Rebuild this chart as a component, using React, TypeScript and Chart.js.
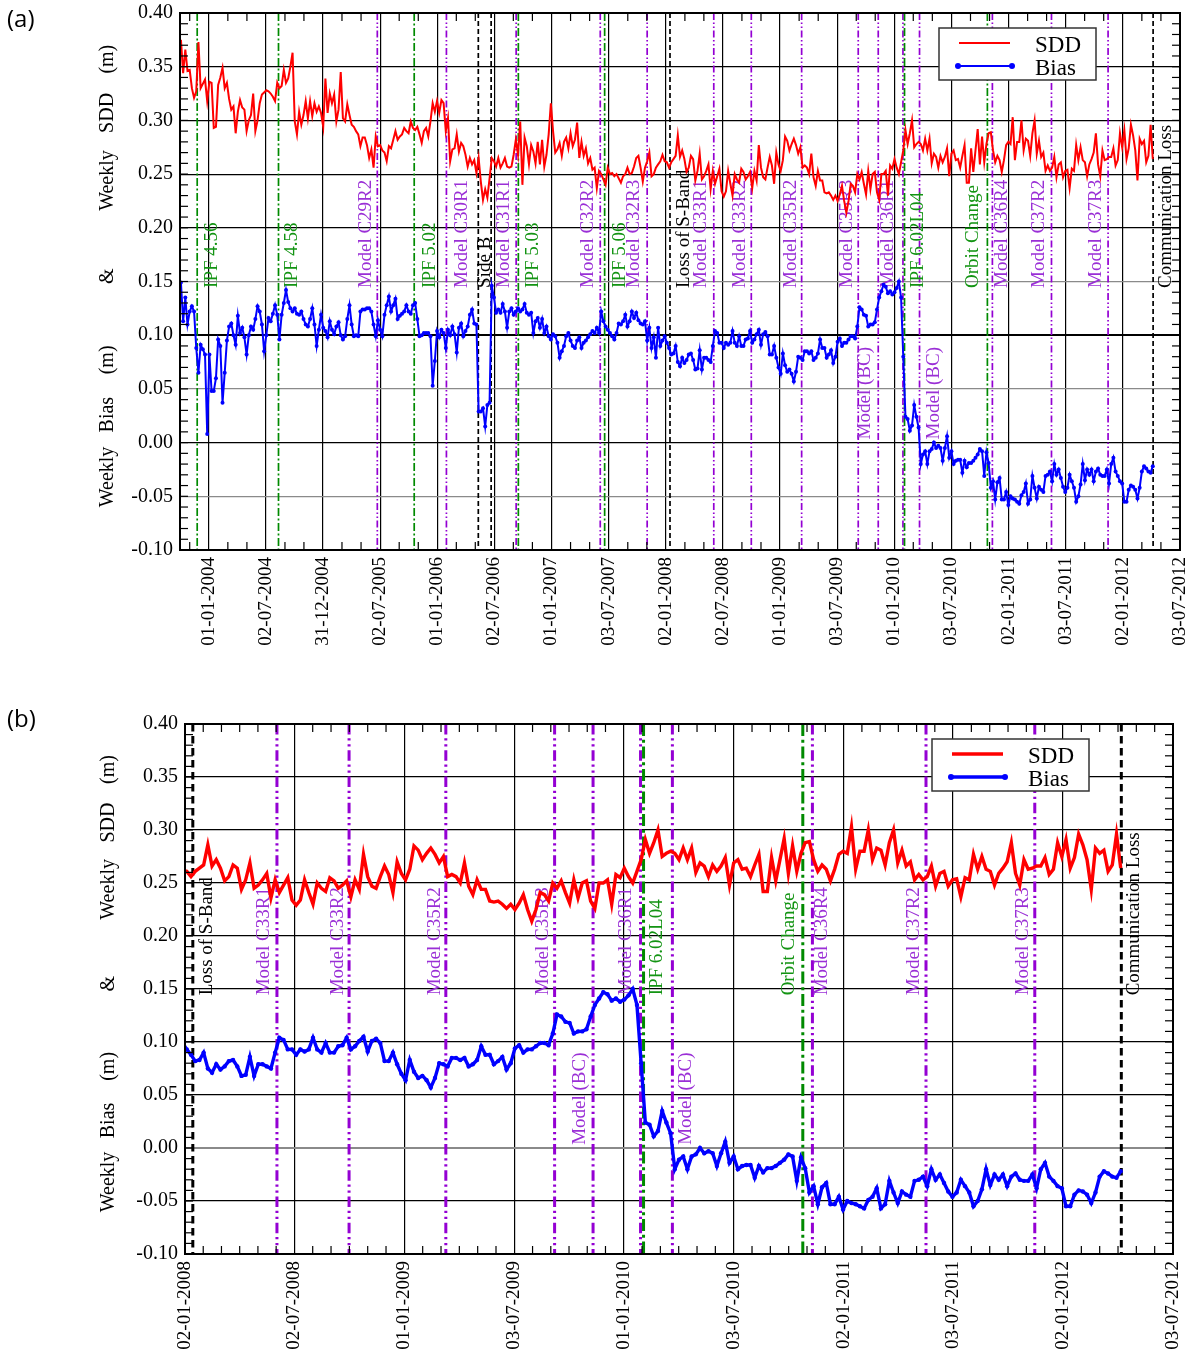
import { useEffect, useRef } from "react";
import { Chart, registerables } from "chart.js";

Chart.register(...registerables);

const SERIF = "'Liberation Serif', serif";
const MS_PER_DAY = 86400000;

Chart.defaults.font.family = SERIF;
Chart.defaults.color = "#000";

// dd-mm-yyyy -> whole days since 1970-01-01
function dayNumber(s: string): number {
  const [d, m, y] = s.split("-").map(Number);
  return Date.UTC(y, m - 1, d) / MS_PER_DAY;
}

// date of the first weekly solution; one value per week follows
const firstWeek = "04-10-2003";

// weekly standard deviation of the differences (m)
const weeklySDD = [
  0.375, 0.344, 0.366, 0.346, 0.347, 0.33, 0.321, 0.327, 0.373, 0.33,
  0.334, 0.338, 0.318, 0.336, 0.335, 0.293, 0.294, 0.333, 0.34, 0.349,
  0.33, 0.335, 0.32, 0.31, 0.313, 0.288, 0.308, 0.319, 0.312, 0.31,
  0.29, 0.3, 0.305, 0.325, 0.29, 0.3, 0.316, 0.324, 0.326, 0.328,
  0.327, 0.325, 0.322, 0.318, 0.335, 0.33, 0.332, 0.347, 0.335, 0.339,
  0.35, 0.363, 0.299, 0.287, 0.308, 0.296, 0.305, 0.318, 0.302, 0.318,
  0.304, 0.316, 0.308, 0.313, 0.307, 0.294, 0.339, 0.307, 0.325, 0.316,
  0.324, 0.299, 0.31, 0.345, 0.302, 0.299, 0.315, 0.305, 0.296, 0.294,
  0.29, 0.287, 0.276, 0.284, 0.284, 0.277, 0.265, 0.273, 0.256, 0.285,
  0.276, 0.277, 0.272, 0.27, 0.262, 0.276, 0.274, 0.282, 0.29, 0.282,
  0.285, 0.287, 0.293, 0.29, 0.288, 0.299, 0.293, 0.291, 0.294, 0.287,
  0.279, 0.29, 0.293, 0.285, 0.299, 0.316, 0.308, 0.318, 0.307, 0.319,
  0.316, 0.29, 0.302, 0.262, 0.273, 0.274, 0.287, 0.271, 0.279, 0.276,
  0.268, 0.257, 0.265, 0.259, 0.263, 0.251, 0.265, 0.243, 0.226, 0.236,
  0.228, 0.246, 0.265, 0.262, 0.257, 0.265, 0.256, 0.26, 0.265, 0.257,
  0.256, 0.257, 0.268, 0.282, 0.268, 0.299, 0.24, 0.284, 0.276, 0.259,
  0.277, 0.271, 0.26, 0.28, 0.259, 0.282, 0.257, 0.268, 0.287, 0.316,
  0.29, 0.27, 0.273, 0.279, 0.267, 0.28, 0.284, 0.274, 0.288, 0.276,
  0.282, 0.298, 0.265, 0.28, 0.267, 0.274, 0.26, 0.265, 0.254, 0.256,
  0.237, 0.253, 0.25, 0.245, 0.24, 0.256, 0.25, 0.251, 0.248, 0.25,
  0.246, 0.242, 0.248, 0.25, 0.256, 0.25, 0.251, 0.257, 0.265, 0.267,
  0.256, 0.243, 0.256, 0.262, 0.27, 0.248, 0.25, 0.256, 0.259, 0.262,
  0.268, 0.262, 0.261, 0.256, 0.261, 0.264, 0.267, 0.286, 0.266, 0.272,
  0.264, 0.252, 0.256, 0.267, 0.264, 0.244, 0.253, 0.269, 0.245, 0.248,
  0.253, 0.259, 0.236, 0.253, 0.241, 0.248, 0.255, 0.234, 0.229, 0.234,
  0.253, 0.241, 0.23, 0.25, 0.245, 0.242, 0.255, 0.252, 0.245, 0.248,
  0.252, 0.237, 0.253, 0.244, 0.277, 0.256, 0.247, 0.245, 0.256, 0.266,
  0.258, 0.241, 0.27, 0.259, 0.253, 0.263, 0.285, 0.281, 0.272, 0.278,
  0.283, 0.277, 0.269, 0.275, 0.256, 0.258, 0.256, 0.25, 0.269, 0.247,
  0.239, 0.253, 0.244, 0.244, 0.233, 0.232, 0.233, 0.23, 0.226, 0.23,
  0.225, 0.231, 0.239, 0.225, 0.214, 0.225, 0.241, 0.239, 0.233, 0.25,
  0.245, 0.252, 0.241, 0.231, 0.253, 0.236, 0.25, 0.252, 0.233, 0.226,
  0.25, 0.25, 0.253, 0.23, 0.258, 0.255, 0.264, 0.256, 0.25, 0.261,
  0.272, 0.291, 0.278, 0.288, 0.3, 0.275, 0.278, 0.28, 0.278, 0.272,
  0.283, 0.272, 0.283, 0.26, 0.269, 0.266, 0.256, 0.267, 0.261, 0.266,
  0.274, 0.248, 0.269, 0.272, 0.263, 0.264, 0.256, 0.267, 0.277, 0.242,
  0.242, 0.274, 0.252, 0.272, 0.292, 0.259, 0.285, 0.261, 0.278, 0.288,
  0.289, 0.272, 0.261, 0.267, 0.263, 0.252, 0.263, 0.277, 0.28, 0.278,
  0.303, 0.263, 0.28, 0.28, 0.3, 0.272, 0.283, 0.281, 0.267, 0.288,
  0.3, 0.269, 0.281, 0.266, 0.27, 0.253, 0.258, 0.253, 0.256, 0.266,
  0.247, 0.259, 0.261, 0.247, 0.253, 0.254, 0.237, 0.255, 0.253, 0.277,
  0.263, 0.275, 0.263, 0.261, 0.248, 0.259, 0.264, 0.27, 0.288, 0.259,
  0.248, 0.272, 0.263, 0.264, 0.266, 0.266, 0.274, 0.258, 0.263, 0.288,
  0.275, 0.291, 0.264, 0.274, 0.296, 0.286, 0.272, 0.244, 0.283, 0.278,
  0.281, 0.261, 0.267, 0.296, 0.264,
];

// weekly mean bias (m)
const weeklyBias = [
  0.149, 0.113, 0.135, 0.11, 0.122, 0.127, 0.122, 0.088, 0.065, 0.091,
  0.087, 0.082, 0.008, 0.082, 0.048, 0.048, 0.06, 0.096, 0.09, 0.037,
  0.065, 0.095, 0.108, 0.111, 0.1, 0.091, 0.118, 0.102, 0.107, 0.098,
  0.082, 0.1, 0.108, 0.105, 0.115, 0.127, 0.122, 0.11, 0.085, 0.1,
  0.116, 0.113, 0.12, 0.128, 0.119, 0.096, 0.119, 0.13, 0.142, 0.131,
  0.125, 0.122, 0.125, 0.12, 0.119, 0.122, 0.115, 0.11, 0.108, 0.115,
  0.125, 0.11, 0.09, 0.105, 0.119, 0.107, 0.104, 0.098, 0.113, 0.105,
  0.101, 0.108, 0.112, 0.1, 0.096, 0.099, 0.115, 0.128, 0.11, 0.099,
  0.1, 0.099, 0.122, 0.124, 0.124, 0.125, 0.125, 0.122, 0.11, 0.099,
  0.114, 0.105, 0.099, 0.119, 0.128, 0.136, 0.122, 0.128, 0.134, 0.115,
  0.118, 0.12, 0.122, 0.128, 0.122, 0.12, 0.128, 0.13, 0.115, 0.099,
  0.1, 0.102, 0.102, 0.102, 0.099, 0.053, 0.076, 0.104, 0.098, 0.105,
  0.102, 0.088, 0.105, 0.1, 0.108, 0.101, 0.084, 0.107, 0.111, 0.099,
  0.104, 0.108, 0.119, 0.124, 0.111, 0.11, 0.029, 0.029, 0.032, 0.015,
  0.035, 0.037, 0.146, 0.135, 0.121, 0.124, 0.121, 0.129, 0.122, 0.107,
  0.122, 0.125, 0.119, 0.122, 0.125, 0.122, 0.124, 0.129, 0.121, 0.119,
  0.121, 0.102, 0.113, 0.116, 0.107, 0.115, 0.102, 0.108, 0.099, 0.096,
  0.101, 0.099, 0.093, 0.079, 0.085, 0.09, 0.099, 0.102, 0.095, 0.09,
  0.088, 0.095, 0.098, 0.088, 0.093, 0.095, 0.098, 0.101, 0.104, 0.102,
  0.107, 0.102, 0.122, 0.113, 0.108, 0.105, 0.102, 0.099, 0.096, 0.102,
  0.111, 0.11, 0.113, 0.119, 0.108, 0.113, 0.122, 0.116, 0.121, 0.114,
  0.111, 0.11, 0.113, 0.095, 0.107, 0.088, 0.098, 0.079, 0.107, 0.09,
  0.095, 0.099, 0.093, 0.088, 0.082, 0.083, 0.09, 0.075, 0.071, 0.079,
  0.074, 0.077, 0.082, 0.083, 0.077, 0.068, 0.069, 0.086, 0.068, 0.079,
  0.079, 0.077, 0.075, 0.09, 0.104, 0.102, 0.093, 0.093, 0.088, 0.093,
  0.091, 0.093, 0.104, 0.093, 0.09, 0.099, 0.09, 0.09, 0.096, 0.097,
  0.104, 0.093, 0.096, 0.101, 0.105, 0.091, 0.101, 0.103, 0.099, 0.082,
  0.082, 0.09, 0.079, 0.07, 0.064, 0.083, 0.072, 0.066, 0.068, 0.064,
  0.057, 0.066, 0.08, 0.079, 0.077, 0.085, 0.085, 0.083, 0.085, 0.077,
  0.079, 0.083, 0.096, 0.088, 0.088, 0.079, 0.082, 0.086, 0.074, 0.08,
  0.094, 0.097, 0.09, 0.093, 0.093, 0.096, 0.099, 0.099, 0.097, 0.108,
  0.126, 0.124, 0.119, 0.118, 0.108, 0.11, 0.11, 0.112, 0.124, 0.135,
  0.141, 0.147, 0.145, 0.139, 0.141, 0.138, 0.14, 0.144, 0.15, 0.135,
  0.08, 0.024, 0.022, 0.011, 0.016, 0.035, 0.024, 0.014, -0.02, -0.011,
  -0.008, -0.02, -0.008, -0.006, 0.0, -0.005, -0.003, -0.005, -0.017, -0.005,
  0.006, -0.014, -0.008, -0.02, -0.017, -0.016, -0.016, -0.028, -0.017, -0.023,
  -0.019, -0.019, -0.017, -0.014, -0.011, -0.006, -0.008, -0.031, -0.009, -0.019,
  -0.042, -0.036, -0.053, -0.037, -0.033, -0.053, -0.053, -0.046, -0.058, -0.05,
  -0.052, -0.053, -0.055, -0.057, -0.049, -0.046, -0.038, -0.057, -0.053, -0.031,
  -0.042, -0.052, -0.041, -0.044, -0.046, -0.031, -0.03, -0.027, -0.036, -0.02,
  -0.03, -0.025, -0.033, -0.041, -0.046, -0.042, -0.03, -0.036, -0.042, -0.055,
  -0.05, -0.039, -0.02, -0.035, -0.025, -0.03, -0.025, -0.036, -0.027, -0.024,
  -0.03, -0.031, -0.031, -0.025, -0.038, -0.02, -0.014, -0.027, -0.031, -0.036,
  -0.038, -0.055, -0.055, -0.044, -0.04, -0.041, -0.044, -0.052, -0.042, -0.027,
  -0.022, -0.024, -0.027, -0.028, -0.022,
];

// x tick labels of the full period and of the zoomed period
const ticksFull = [
  "01-01-2004", "02-07-2004", "31-12-2004", "02-07-2005", "01-01-2006",
  "02-07-2006", "01-01-2007", "03-07-2007", "02-01-2008", "02-07-2008",
  "01-01-2009", "03-07-2009", "01-01-2010", "03-07-2010", "02-01-2011",
  "03-07-2011", "02-01-2012", "03-07-2012",
];
const ticksZoom = [
  "02-01-2008", "02-07-2008", "01-01-2009", "03-07-2009", "01-01-2010",
  "03-07-2010", "02-01-2011", "03-07-2011", "02-01-2012", "03-07-2012",
];

// processing / model / instrument events
const eventDates = [
  "25-11-2003", "11-08-2004", "23-06-2005", "19-10-2005", "30-01-2006",
  "12-05-2006", "22-06-2006", "10-09-2006", "17-09-2006", "06-06-2007",
  "20-06-2007", "03-11-2007", "15-01-2008", "03-06-2008", "01-10-2008",
  "11-03-2009", "08-09-2009", "11-11-2009", "29-01-2010", "03-02-2010",
  "23-03-2010", "26-10-2010", "11-11-2010", "19-05-2011", "16-11-2011",
  "08-04-2012",
];
const eventNames = [
  "IPF 4.56", "IPF 4.58", "Model C29R2", "IPF 5.02", "Model C30R1",
  "", "Side B", "Model C31R1", "IPF 5.03", "Model C32R2",
  "IPF 5.06", "Model C32R3", "Loss of S-Band", "Model C33R1", "Model C33R2",
  "Model C35R2", "Model C35R3", "Model (BC)", "Model C36R1", "IPF 6.02L04",
  "Model (BC)", "Orbit Change", "Model C36R4", "Model C37R2", "Model C37R3",
  "Communication Loss",
];
const eventKinds = [
  "ipf", "ipf", "model", "ipf", "model",
  "status", "status", "model", "ipf", "model",
  "ipf", "model", "status", "model", "model",
  "model", "model", "model", "model", "ipf",
  "model", "ipf", "model", "model", "model",
  "status",
];

// horizontal placement of each event label relative to its line (px)
const labelShift = [
  15, 14, -11, 16, 16, 0, -6, -12, 15, -12, 15, -13, 14, -12.5, -11.5, -11,
  -11.5, -13, -14.5, 13.5, 14, -14, 10, -12, -12, 13,
];

// rotated y-axis title pieces and the y value they are centred on
const titleParts: [string, number][] = [
  ["(m)", 0.357], ["SDD", 0.307], ["Weekly", 0.244], ["&", 0.155],
  ["(m)", 0.077], ["Bias", 0.026], ["Weekly", -0.032],
];

const LINE_COLOR: Record<string, string> = { model: "#9400d3", ipf: "#008a00", status: "#000000" };
const TEXT_COLOR: Record<string, string> = { model: "#9a2fd6", ipf: "#139413", status: "#000000" };
const DASH: Record<string, number[]> = {
  model: [7, 2.5, 1.5, 2.5, 1.5, 2.5],
  ipf: [8, 2.5, 2, 2.5],
  status: [5, 3],
};

type Panel = {
  name: string; top: number; height: number; min: string; max: string;
  ticks: string[]; sub: number; left: number; rightPad: number; plotTop: number;
  xAxisH: number; dataW: number; pointR: number; markW: number; dashScale: number;
  gray: number[]; bold: number[]; titleX: number;
};

const PANELS: Panel[] = [
  {
    name: "(a)", top: 0, height: 660, min: "01-10-2003", max: "03-07-2012",
    ticks: ticksFull, sub: 3, left: 180, rightPad: 18, plotTop: 13, xAxisH: 110,
    dataW: 2, pointR: 2, markW: 1.7, dashScale: 1, gray: [0.15, 0.05, -0.05], bold: [0.1], titleX: 108,
  },
  {
    name: "(b)", top: 670, height: 695, min: "02-01-2008", max: "03-07-2012",
    ticks: ticksZoom, sub: 6, left: 185, rightPad: 25, plotTop: 54, xAxisH: 111,
    dataW: 3.4, pointR: 2.2, markW: 3, dashScale: 1.5, gray: [0], bold: [0], titleX: 109,
  },
];

const near = (v: number | undefined, list: number[]) =>
  v !== undefined && list.some((t) => Math.abs(t - v) < 1e-6);

function decorations(p: Panel) {
  const minDay = dayNumber(p.min);
  const maxDay = dayNumber(p.max);
  const tickDays = p.ticks.map(dayNumber);
  return {
    id: "decorations",
    beforeDatasetsDraw(chart: any) {
      const { ctx, chartArea: a, scales } = chart;
      const xs = scales.x;
      const ys = scales.y;
      ctx.save();
      ctx.beginPath();
      ctx.rect(a.left, a.top, a.right - a.left, a.bottom - a.top);
      ctx.clip();
      eventDates.forEach((d, k) => {
        const day = dayNumber(d);
        if (day < minDay) return;
        const x = xs.getPixelForValue(day);
        const kind = eventKinds[k];
        ctx.strokeStyle = LINE_COLOR[kind];
        ctx.lineWidth = p.markW;
        ctx.setLineDash(DASH[kind].map((v) => v * p.dashScale));
        ctx.beginPath();
        ctx.moveTo(x, a.top);
        ctx.lineTo(x, a.bottom);
        ctx.stroke();
      });
      ctx.setLineDash([]);
      ctx.font = `19px ${SERIF}`;
      ctx.textAlign = "left";
      ctx.textBaseline = "middle";
      eventDates.forEach((d, k) => {
        const day = dayNumber(d);
        const label = eventNames[k];
        if (day < minDay || !label) return;
        const x = xs.getPixelForValue(day) + labelShift[k];
        const y = ys.getPixelForValue(label === "Model (BC)" ? 0.003 : 0.144);
        ctx.save();
        ctx.translate(x, y);
        ctx.rotate(-Math.PI / 2);
        ctx.fillStyle = TEXT_COLOR[eventKinds[k]];
        ctx.fillText(label, 0, 0);
        ctx.restore();
      });
      ctx.restore();
    },
    afterDraw(chart: any) {
      const { ctx, chartArea: a, scales } = chart;
      const xs = scales.x;
      const ys = scales.y;
      ctx.save();
      // minor ticks
      ctx.strokeStyle = "#000";
      ctx.lineWidth = 1.2;
      const seg = (x1: number, y1: number, x2: number, y2: number) => {
        ctx.beginPath();
        ctx.moveTo(x1, y1);
        ctx.lineTo(x2, y2);
        ctx.stroke();
      };
      for (let k = 0; k <= 50; k++) {
        const y = ys.getPixelForValue(-0.1 + k * 0.01);
        seg(a.left, y, a.left + 8, y);
        seg(a.right - 8, y, a.right, y);
      }
      const minor: number[] = [];
      for (let j = 0; j < tickDays.length; j++) {
        const step = j < tickDays.length - 1 ? tickDays[j + 1] - tickDays[j] : tickDays[j] - tickDays[j - 1];
        for (let s = 1; s < p.sub; s++) {
          minor.push(tickDays[j] + (step * s) / p.sub);
          if (j === 0) minor.push(tickDays[0] - (step * s) / p.sub);
        }
      }
      minor.forEach((d) => {
        if (d <= minDay || d >= maxDay) return;
        const x = xs.getPixelForValue(d);
        seg(x, a.bottom, x, a.bottom - 8);
        seg(x, a.top, x, a.top + 8);
      });
      // frame
      ctx.lineWidth = 2;
      ctx.strokeRect(a.left, a.top, a.right - a.left, a.bottom - a.top);
      // y-axis title
      ctx.fillStyle = "#000";
      ctx.font = `20px ${SERIF}`;
      ctx.textAlign = "center";
      ctx.textBaseline = "middle";
      titleParts.forEach(([text, v]) => {
        ctx.save();
        ctx.translate(p.titleX, ys.getPixelForValue(v));
        ctx.rotate(-Math.PI / 2);
        ctx.fillText(text, 0, 0);
        ctx.restore();
      });
      // legend
      const bx = a.right - 241;
      const by = a.top + 15;
      ctx.fillStyle = "#fff";
      ctx.fillRect(bx, by, 157, 52);
      ctx.strokeStyle = "#333";
      ctx.lineWidth = 1.5;
      ctx.strokeRect(bx, by, 157, 52);
      ctx.lineWidth = p.dataW;
      ctx.strokeStyle = "#ff0000";
      seg(bx + 20, by + 15, bx + 71, by + 15);
      ctx.strokeStyle = "#0000ff";
      seg(bx + 19, by + 38, bx + 73, by + 38);
      ctx.fillStyle = "#0000ff";
      [bx + 19, bx + 73].forEach((cx) => {
        ctx.beginPath();
        ctx.arc(cx, by + 38, 3, 0, Math.PI * 2);
        ctx.fill();
      });
      ctx.fillStyle = "#000";
      ctx.font = `23px ${SERIF}`;
      ctx.textAlign = "left";
      ctx.textBaseline = "alphabetic";
      ctx.fillText("SDD", bx + 96, by + 24);
      ctx.fillText("Bias", bx + 96, by + 47);
      ctx.restore();
    },
  };
}

function PanelChart({ p }: { p: Panel }) {
  const ref = useRef<HTMLCanvasElement | null>(null);
  useEffect(() => {
    if (!ref.current) return;
    const start = dayNumber(firstWeek);
    const sddPoints = weeklySDD.map((v, i) => ({ x: start + 7 * i, y: v }));
    const biasPoints = weeklyBias.map((v, i) => ({ x: start + 7 * i, y: v }));
    const tickDays = p.ticks.map(dayNumber);
    const chart = new Chart(ref.current, {
      type: "line",
      data: {
        datasets: [
          {
            label: "SDD", data: sddPoints, borderColor: "#ff0000", backgroundColor: "#ff0000",
            borderWidth: p.dataW, pointRadius: 0, tension: 0, clip: 1,
          },
          {
            label: "Bias", data: biasPoints, borderColor: "#0000ff", backgroundColor: "#0000ff",
            borderWidth: p.dataW, pointRadius: p.pointR, pointBorderWidth: 0,
            pointBackgroundColor: "#0000ff", tension: 0, clip: 1,
          },
        ],
      },
      options: {
        responsive: false,
        animation: false,
        devicePixelRatio: 1,
        events: [],
        layout: { padding: { left: 0, right: p.rightPad, top: p.plotTop, bottom: 0 } },
        plugins: { legend: { display: false }, tooltip: { enabled: false } },
        scales: {
          x: {
            type: "linear",
            min: dayNumber(p.min),
            max: dayNumber(p.max),
            afterBuildTicks: (s: any) => {
              s.ticks = tickDays.map((v) => ({ value: v }));
            },
            afterFit: (s: any) => {
              s.height = p.xAxisH;
              s.paddingLeft = 0;
              s.paddingRight = 0;
            },
            ticks: {
              autoSkip: false, minRotation: 90, maxRotation: 90, padding: 7, color: "#000",
              font: { family: SERIF, size: 19 },
              callback: (_v: any, i: number) => p.ticks[i],
            },
            grid: { color: "#000", lineWidth: 1.2, drawTicks: false },
            border: { display: false },
          },
          y: {
            type: "linear",
            min: -0.1,
            max: 0.4,
            afterFit: (s: any) => {
              s.width = p.left;
              s.paddingTop = 0;
              s.paddingBottom = 0;
            },
            ticks: {
              stepSize: 0.05, padding: 7, color: "#000",
              font: { family: SERIF, size: 20 },
              callback: (v: any) => Number(v).toFixed(2),
            },
            grid: {
              drawTicks: false,
              color: (c: any) => (near(c.tick?.value, p.gray) ? "#8a8a8a" : "#000"),
              lineWidth: (c: any) => (near(c.tick?.value, p.bold) ? 2 : 1.2),
            },
            border: { display: false },
          },
        },
      } as any,
      plugins: [decorations(p)],
    });
    return () => chart.destroy();
  }, [p]);
  return (
    <canvas
      ref={ref}
      width={1198}
      height={p.height}
      style={{ position: "absolute", left: 0, top: p.top, width: 1198, height: p.height }}
    />
  );
}

export default function App() {
  return (
    <div style={{ position: "absolute", left: 0, top: 0, width: 1198, height: 1365, background: "#fff" }}>
      {PANELS.map((p) => (
        <PanelChart key={p.name} p={p} />
      ))}
      <div style={{ position: "absolute", left: 7, top: 4, font: '24px "Open Sans", sans-serif', lineHeight: 1.2 }}>(a)</div>
      <div style={{ position: "absolute", left: 7, top: 704, font: '24px "Open Sans", sans-serif', lineHeight: 1.2 }}>(b)</div>
    </div>
  );
}
